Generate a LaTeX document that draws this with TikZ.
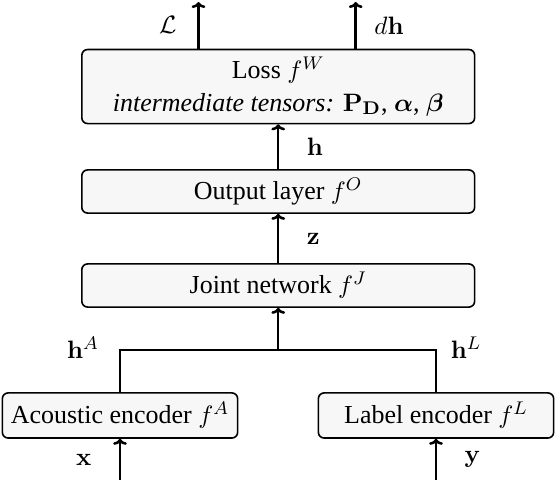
\documentclass[tikz,border=0pt]{standalone}
\usepackage{amsmath,amssymb}
\usepackage[no-math]{fontspec}
\setmainfont{Liberation Serif}
\usetikzlibrary{positioning,arrows.meta}

\begin{document}
\begin{tikzpicture}[
      every node/.style={font=\fontsize{11.3pt}{14pt}\selectfont},
      blk/.style={draw, line width=0.7pt, rounded corners=2.5pt, fill=gray!6,
                  minimum width=6.01cm, minimum height=0.66cm, align=center},
      enc/.style={blk, minimum width=3.6cm, minimum height=0.69cm},
      arr/.style={-{To[length=2.6pt,width=6pt]}, line width=1.1pt},
      wire/.style={line width=1.1pt}
    ]
    \useasboundingbox (0,0) rectangle (8.507,7.344);

    % blocks
    \node[blk, minimum height=1.056cm] (loss) at (4.257,6.020)
      {Loss $f^W$\\ \textit{intermediate tensors:} $\mathbf{P}_{\mathbf{D}}$, $\boldsymbol{\alpha}$, $\boldsymbol{\beta}$};
    \node[blk] (out) at (4.257,4.414) {Output layer $f^O$};
    \node[blk] (joint) at (4.257,2.976) {Joint network $f^J$};
    \node[enc] (ac) at (1.836,0.987) {Acoustic encoder $f^A$};
    \node[enc] (le) at (6.671,0.987) {Label encoder $f^L$};

    % free ends
    \coordinate (lossL) at (3.037,7.313);
    \coordinate (lossdh) at (5.442,7.313);
    \coordinate (inx) at (ac.south |- 0,0);
    \coordinate (iny) at (le.south |- 0,0);
    \coordinate (jn) at (joint.south |- 0,1.989);

    % connectors
    \draw[arr] (lossL |- loss.north) -- (lossL) node[pos=0.5, left=0.2cm] (lblL) {$\mathcal{L}$};
    \draw[arr] (lossdh |- loss.north) -- (lossdh) node[pos=0.5, right=0.15cm] (lbldh) {$d\mathbf{h}$};
    \draw[arr] (out.north) -- (loss.south) node[midway, right=0.3cm] (lblh) {$\mathbf{h}$};
    \draw[arr] (joint.north) -- (out.south) node[midway, right=0.3cm] (lblz) {$\mathbf{z}$};
    \draw[wire] (ac.north) |- (jn) -| (le.north);
    \draw[arr] (jn) -- (joint.south);
    \node (lblhA) at (1.27,2.02) {$\mathbf{h}^A$};
    \node (lblhL) at (7.13,2.02) {$\mathbf{h}^L$};
    \draw[arr] (inx) -- (ac.south) node[midway, left=0.3cm] (lblx) {$\mathbf{x}$};
    \draw[arr] (iny) -- (le.south) node[midway, right=0.3cm] (lbly) {$\mathbf{y}$};
\end{tikzpicture}
\end{document}
